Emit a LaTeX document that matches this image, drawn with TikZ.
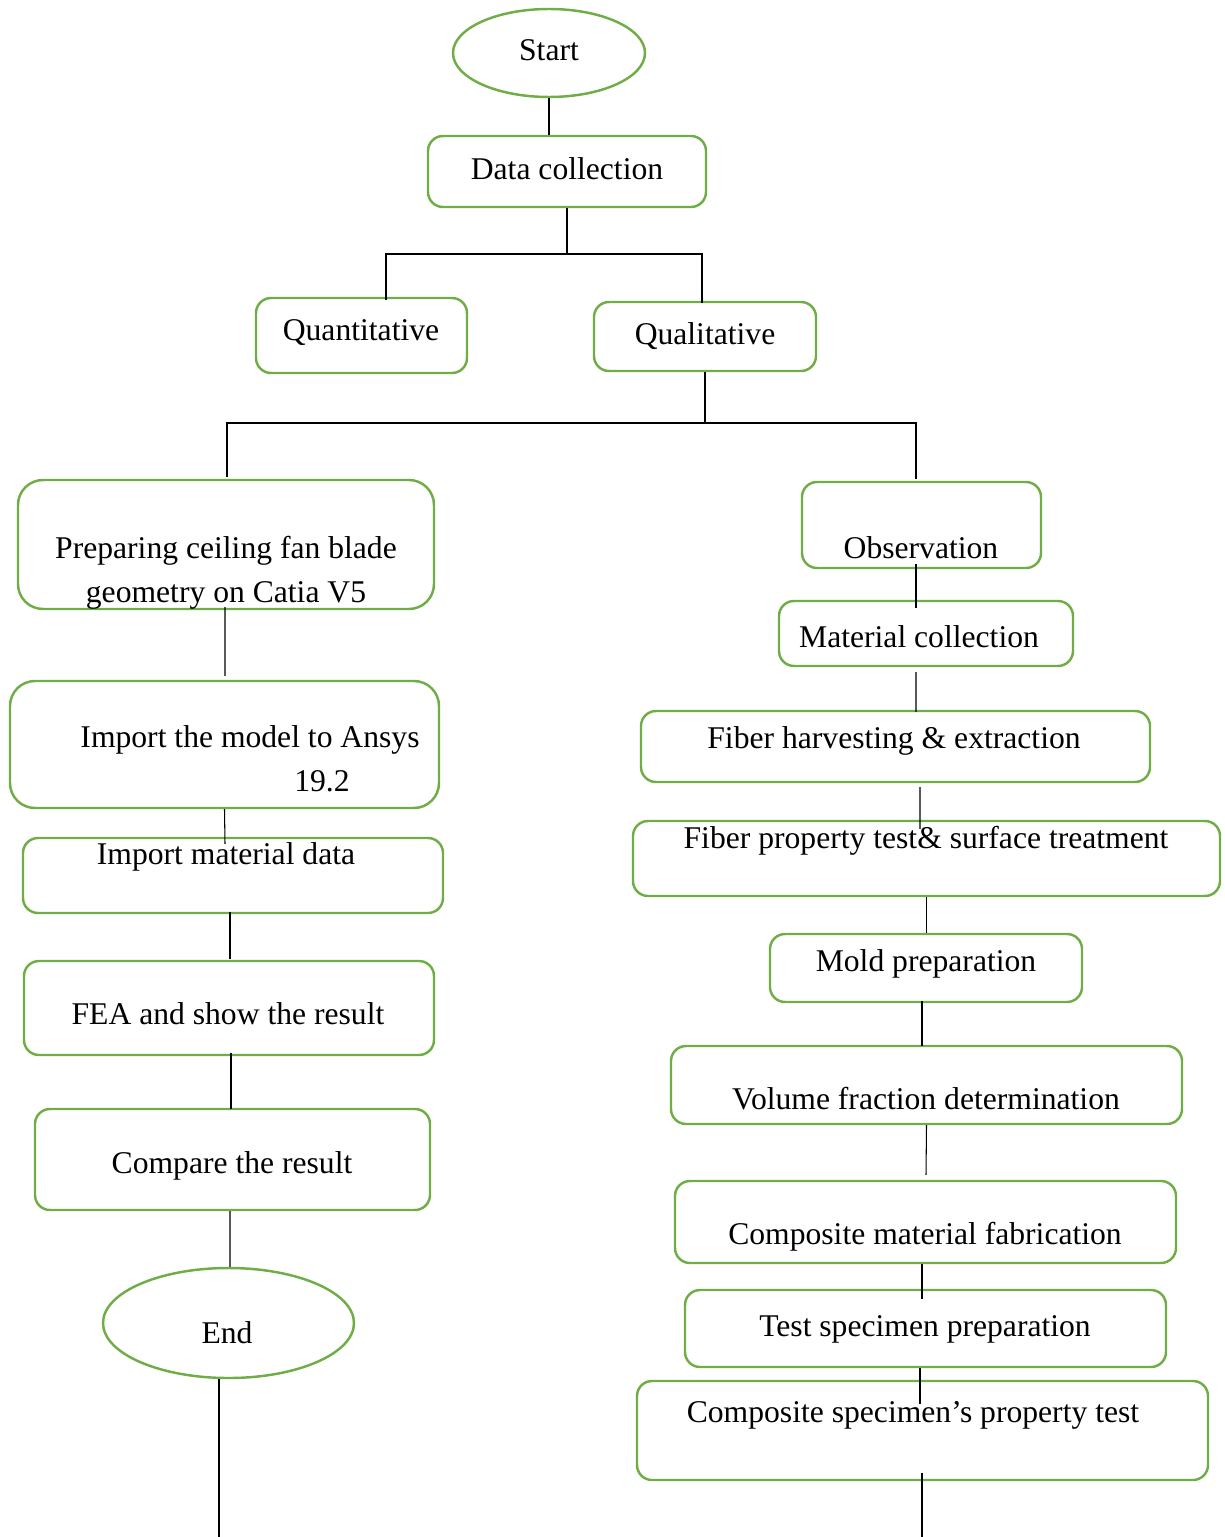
\documentclass[tikz,border=0pt]{standalone}
\usepackage{fontspec}
\setmainfont{Liberation Serif}
\usepackage{tikz}
\usetikzlibrary{calc, shapes.geometric, positioning}
\definecolor{boxgreen}{RGB}{112,173,71}

\begin{document}
\begin{tikzpicture}[x=0.02cm, y=-0.02cm,
	blk/.style={draw=boxgreen, line width=1.4pt, rounded corners=0.3cm},
	oval/.style={ellipse, draw=boxgreen, line width=1.4pt},
	sz/.style 2 args={minimum width=#1*0.02cm, minimum height=#2*0.02cm, inner sep=0pt},
	txt/.style={inner sep=0pt, text height=.66em, text depth=0pt, yshift=-0.1cm, font=\fontsize{18}{22}\selectfont},
	conn/.style={line width=0.6pt}]
		\useasboundingbox (0,0) rectangle (1224,1537);
		\node[oval, sz={192}{88}] (start) at (549,53) {};
		\node[blk, sz={278}{71}] (datacoll) at (567,171.5) {};
		\node[blk, sz={211}{75}] (quant) at (361.5,335.5) {};
		\node[blk, sz={222}{69}] (qual) at (705,336.5) {};
		\node[blk, sz={416}{129}, rounded corners=0.5cm] (prep) at (226,544.5) {};
		\node[blk, sz={429}{127}, rounded corners=0.5cm] (impmodel) at (224.5,744.5) {};
		\node[blk, sz={420}{75}] (impmat) at (233,875.5) {};
		\node[blk, sz={410}{94}] (fea) at (229,1008) {};
		\node[blk, sz={395}{101}] (comp) at (232.5,1159.5) {};
		\node[oval, sz={251}{110}] (end) at (228.5,1323) {};
		\node[blk, sz={239}{86}] (obs) at (921.5,525) {};
		\node[blk, sz={294}{65}] (matcoll) at (926,633.5) {};
		\node[blk, sz={509}{71}] (fibharv) at (895.5,746.5) {};
		\node[blk, sz={587}{75}] (fibprop) at (926.5,858.5) {};
		\node[blk, sz={312}{68}] (mold) at (926,968) {};
		\node[blk, sz={511}{78}] (vol) at (926.5,1085) {};
		\node[blk, sz={501}{82}] (compfab) at (925.5,1222) {};
		\node[blk, sz={481}{77}] (testspec) at (925.5,1328.5) {};
		\node[blk, sz={571}{99}] (compspec) at (922.5,1430.5) {};
		\node[txt] (start-t) at (549,50) {Start};
		\node[txt] (datacoll-t) at (567,169) {Data collection};
		\node[txt] (quant-t) at (361,330) {Quantitative};
		\node[txt] (qual-t) at (705,334) {Qualitative};
		\node[txt] (prep-t1) at (226,548) {Preparing ceiling fan blade};
		\node[txt] (prep-t2) at (226,592) {geometry on Catia V5};
		\node[txt] (impmodel-t1) at (250,737) {Import the model to Ansys};
		\node[txt] (impmodel-t2) at (322,781) {19.2};
		\node[txt] (impmat-t) at (226,854) {Import material data};
		\node[txt] (fea-t) at (228,1014) {FEA and show the result};
		\node[txt] (comp-t) at (232,1163) {Compare the result};
		\node[txt] (end-t) at (227,1333) {End};
		\node[txt] (obs-t) at (921,548) {Observation};
		\node[txt] (matcoll-t) at (919,637) {Material collection};
		\node[txt] (fibharv-t) at (894,738) {Fiber harvesting \& extraction};
		\node[txt] (fibprop-t) at (926,838) {Fiber property test\& surface treatment};
		\node[txt] (mold-t) at (926,961) {Mold preparation};
		\node[txt] (vol-t) at (926,1099) {Volume fraction determination};
		\node[txt] (compfab-t) at (925,1234) {Composite material fabrication};
		\node[txt] (testspec-t) at (925,1326) {Test specimen preparation};
		\node[txt] (compspec-t) at (913,1412) {Composite specimen’s property test};
		\coordinate (dcj) at (567,254);
		\coordinate (qlj) at (705,423);
		\coordinate (endout) at (219,1537);
		\coordinate (specout) at (922,1537);
		\draw[conn] (start.south) -- (start.south |- datacoll.north);
		\draw[conn] (datacoll.south) -- (dcj);
		\draw[conn] ($(quant.north)+(24.5,3)$) |- (dcj) -| ($(qual.north)+(-3,2)$);
		\draw[conn] (qual.south) -- (qlj);
		\draw[conn] ($(prep.north)+(1,-2)$) |- (qlj) -| ($(obs.north)+(-5.5,-2)$);
		\draw[conn] ($(prep.south)+(-1,-3)$) -- ($(impmodel.north)+(0.5,-4)$);
		\draw[conn] (impmodel.south) -- ($(impmat.north)+(-8,7)$);
		\draw[conn] ($(impmat.south)+(-3,-2)$) -- ($(fea.north)+(1,-1)$);
		\draw[conn] ($(fea.south)+(2,-3)$) -- ($(comp.north)+(-1.5,1)$);
		\draw[conn] ($(comp.south)+(-2.5,0)$) -- ($(end.north)+(1.5,0)$);
		\draw[conn] (end.south -| endout) -- (endout);
		\draw[conn] ($(obs.south)+(-5.5,-5)$) -- ($(matcoll.north)+(-10,8)$);
		\draw[conn] ($(matcoll.south)+(-10,5)$) -- ($(fibharv.north)+(20.5,2)$);
		\draw[conn] ($(fibharv.south)+(24.5,4)$) -- ($(fibprop.north)+(-6.5,9)$);
		\draw[conn] (fibprop.south) -- (fibprop.south |- mold.north);
		\draw[conn] ($(mold.south)+(-4,-2)$) -- ($(vol.north)+(-4.5,1)$);
		\draw[conn] (vol.south) -- ($(compfab.north)+(0.5,-5)$);
		\draw[conn] ($(compfab.south)+(-3.5,0)$) -- ($(testspec.north)+(-3.5,10)$);
		\draw[conn] ($(testspec.south)+(-5.5,0)$) -- ($(compspec.north)+(-2.5,24)$);
		\draw[conn] ($(compspec.south)+(-0.5,-8)$) -- (specout);
	\end{tikzpicture}
\end{document}
